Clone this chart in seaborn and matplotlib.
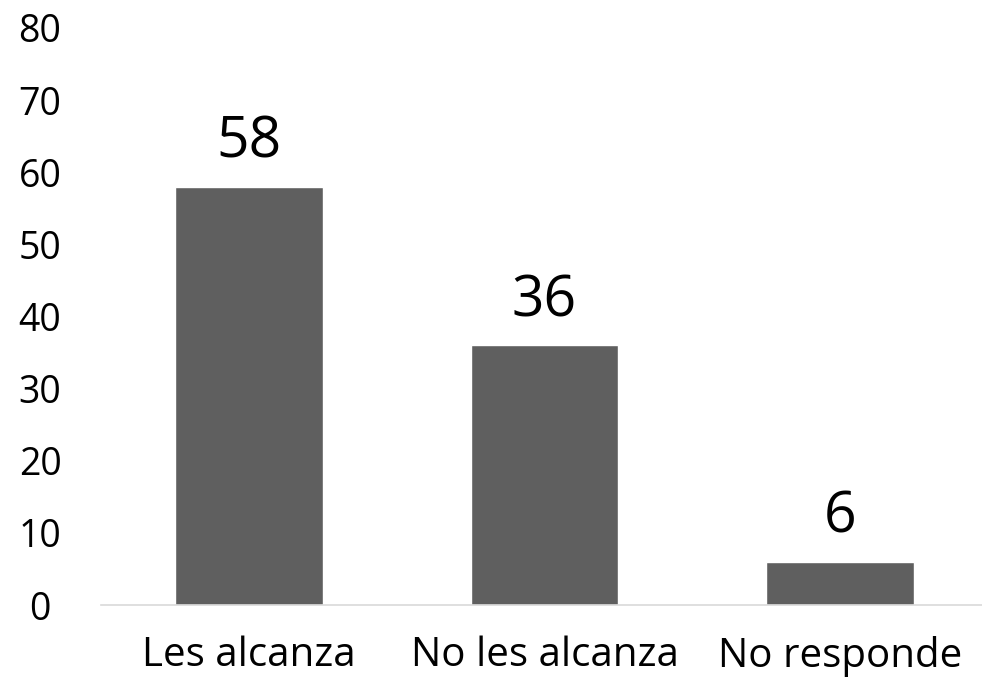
import matplotlib
matplotlib.use("Agg")
import matplotlib.pyplot as plt
import pandas as pd
import seaborn as sns

categories = ["Les alcanza", "No les alcanza", "No responde"]
values = [58, 36, 6]
yticks = [0, 10, 20, 30, 40, 50, 60, 70, 80]

df = pd.DataFrame({"categoria": categories, "valor": values})

sns.set_theme(style="white")
plt.rcParams["font.family"] = ["Open Sans", "DejaVu Sans"]

fig = plt.figure(figsize=(9.82, 6.81), dpi=100)
ax = fig.add_axes([0.103, 0.1116, 0.903, 0.8473])

sns.barplot(data=df, x="categoria", y="valor", color="#5f5f5f", width=0.5,
            saturation=1, ax=ax)

# value labels above the bars
for i, v in enumerate(values):
    ax.text(i, v + 4, str(v), ha="center", va="baseline", fontsize=41, color="black")

ax.set_xlim(-0.5, 2.5)
ax.set_ylim(0, 80)
ax.set_yticks(yticks)
ax.set_xlabel("")
ax.set_ylabel("")

for s in ["top", "right", "left"]:
    ax.spines[s].set_visible(False)
ax.spines["bottom"].set_color("#d9d9d9")
ax.spines["bottom"].set_linewidth(1.2)

ax.tick_params(axis="x", length=0, pad=22, labelsize=29, labelcolor="black")
ax.tick_params(axis="y", length=0, pad=44, labelsize=27, labelcolor="black")
for lbl in ax.get_yticklabels():
    lbl.set_horizontalalignment("center")

fig.savefig("out.png", dpi=100)
